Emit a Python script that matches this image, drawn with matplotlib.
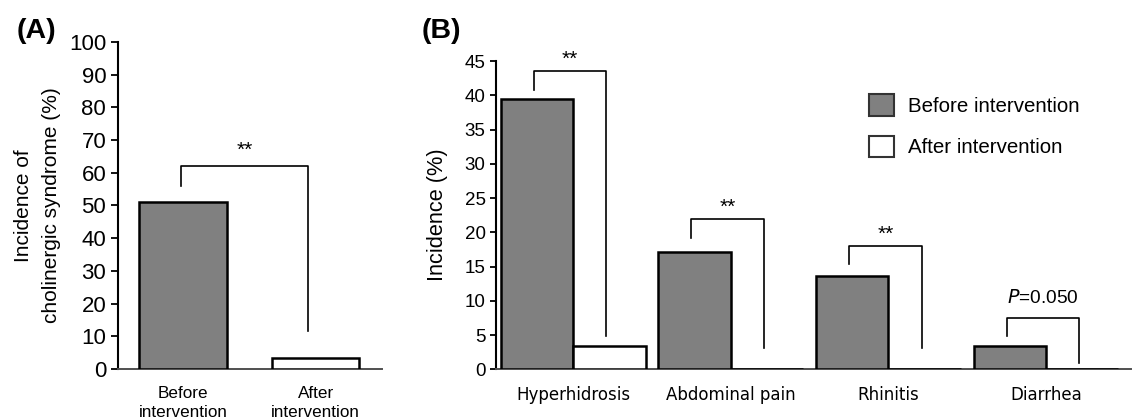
import matplotlib
matplotlib.use("Agg")
import matplotlib.pyplot as plt
from matplotlib.patches import Patch

# ---- data ----
a_labels = ["Before\nintervention", "After\nintervention"]
a_values = [51.2, 3.3]

b_categories = ["Hyperhidrosis", "Abdominal pain", "Rhinitis", "Diarrhea"]
b_before = [39.4, 17.1, 13.6, 3.4]
b_after = [3.4, 0, 0, 0]
b_marks = ["**", "**", "**", "P=0.050"]

# bracket levels: (left leg bottom, top, right leg bottom)
a_bracket = (56, 62, 11.5)
b_brackets = [(40.8, 43.5, 4.85), (19.2, 21.9, 3.05), (15.3, 18.0, 3.05), (4.85, 7.5, 0.9)]

GRAY = "#808080"
plt.rcParams["font.family"] = "Liberation Sans"

fig = plt.figure(figsize=(11.32, 4.19), dpi=100)

# ---- panel A ----
axA = fig.add_axes([0.1042, 0.1193, 0.2332, 0.7805])
axA.bar([0, 1], a_values, width=0.66, color=[GRAY, "white"], edgecolor="black",
        linewidth=1.8, zorder=3)
axA.set_xlim(-0.49, 1.5)
axA.set_ylim(0, 100)
axA.set_yticks(range(0, 101, 10))
axA.set_xticks([0, 1])
axA.set_xticklabels(a_labels, fontsize=12.3, linespacing=1.35)
axA.tick_params(axis="x", length=0, pad=12)
axA.tick_params(axis="y", labelsize=16, length=5, width=1.3, direction="out")
for s in ["top", "right"]:
    axA.spines[s].set_visible(False)
axA.spines["left"].set_linewidth(1.5)
axA.spines["bottom"].set_linewidth(1.4)
axA.spines["bottom"].set_color("#505050")
axA.set_ylabel("Incidence of\ncholinergic syndrome (%)", fontsize=15, labelpad=6, linespacing=1.6)
l, t, r = a_bracket
axA.plot([-0.014, -0.014, 0.94, 0.94], [l, t, t, r], color="black", lw=1.2, clip_on=False)
axA.text(0.463, t + 5, "**", ha="center", va="center", fontsize=15)
fig.text(0.0147, 0.926, "(A)", fontsize=20.5, fontweight="bold", ha="left", va="center")

# ---- panel B ----
axB = fig.add_axes([0.4382, 0.1186, 0.561, 0.7358])
x = list(range(len(b_categories)))
w = 0.46
axB.bar([i - w / 2 for i in x], b_before, width=w, color=GRAY, edgecolor="black",
        linewidth=1.8, zorder=3)
axB.bar([i + w / 2 for i in x], b_after, width=w, color="white", edgecolor="black",
        linewidth=1.8, zorder=3)
axB.set_xlim(-0.49, 3.54)
axB.set_ylim(0, 45)
axB.set_yticks(range(0, 46, 5))
axB.set_xticks(x)
axB.set_xticklabels(b_categories, fontsize=12, family="DejaVu Sans")
axB.tick_params(axis="x", length=0, pad=12)
axB.tick_params(axis="y", labelsize=13.5, length=4, width=1.3, direction="out")
for s in ["top", "right"]:
    axB.spines[s].set_visible(False)
axB.spines["left"].set_linewidth(1.5)
axB.spines["bottom"].set_linewidth(1.4)
axB.spines["bottom"].set_color("#505050")
axB.set_ylabel("Incidence (%)", fontsize=15.7, labelpad=12)

for i, (l, t, r) in enumerate(b_brackets):
    xl, xr = i - 0.25, i + 0.21
    axB.plot([xl, xl, xr, xr], [l, t, t, r], color="black", lw=1.2, clip_on=False)
    if b_marks[i] == "**":
        axB.text((xl + xr) / 2, t + 1.7, "**", ha="center", va="center", fontsize=15)
    else:
        axB.text((xl + xr) / 2, t + 2.85, "$\\it{P}$=0.050", ha="center", va="center",
                 fontsize=13.8)

axB.legend(handles=[Patch(facecolor=GRAY, edgecolor="#333333", lw=1.5),
                    Patch(facecolor="white", edgecolor="#333333", lw=1.5)],
           labels=["Before intervention", "After intervention"],
           loc="upper left", bbox_to_anchor=(0.7677, 0.775), bbox_transform=fig.transFigure,
           frameon=False, borderpad=0, borderaxespad=0,
           handlelength=1.22, handleheight=1.22, handletextpad=0.68, labelspacing=0.96,
           fontsize=14.8)
fig.text(0.3728, 0.926, "(B)", fontsize=20.5, fontweight="bold", ha="left", va="center")

fig.savefig("out.png", dpi=100)
